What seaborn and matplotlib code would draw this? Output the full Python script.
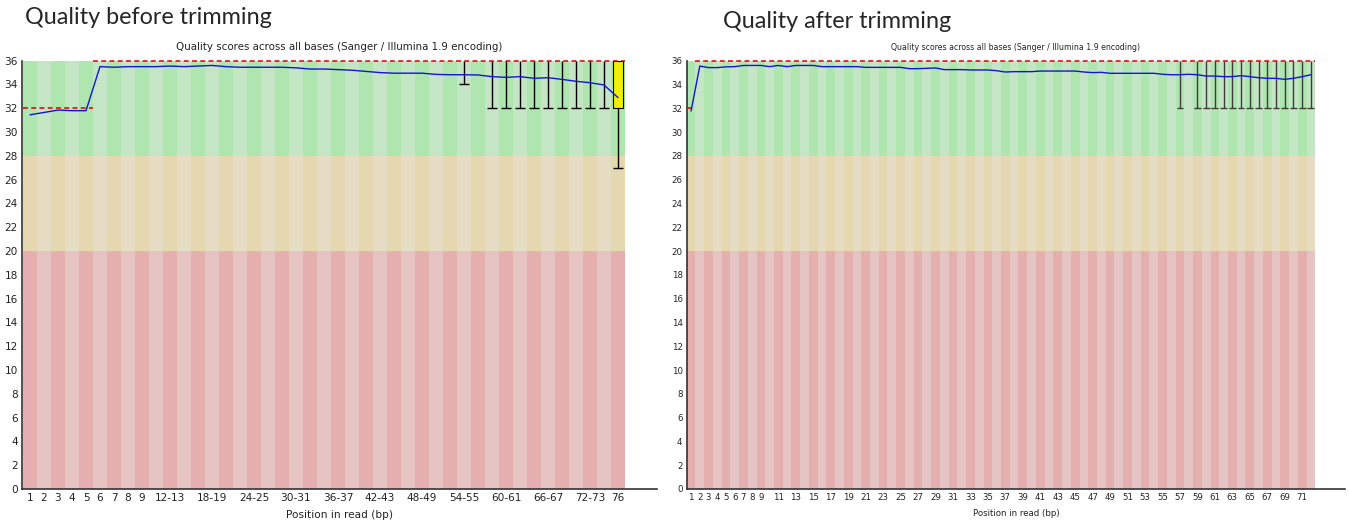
import matplotlib
matplotlib.use("Agg")
import numpy as np
import pandas as pd
import matplotlib.pyplot as plt
import seaborn as sns

sns.set_theme(style="white")
plt.rcParams['font.family'] = ['DejaVu Sans']

# ---------------- data: before trimming (grouped bins) ----------------
before_labels = ['1', '2', '3', '4', '5', '6', '7', '8', '9',
                 '10-11', '12-13', '14-15', '16-17', '18-19', '20-21', '22-23',
                 '24-25', '26-27', '28-29', '30-31', '32-33', '34-35', '36-37',
                 '38-39', '40-41', '42-43', '44-45', '46-47', '48-49', '50-51',
                 '52-53', '54-55', '56-57', '58-59', '60-61', '62-63', '64-65',
                 '66-67', '68-69', '70-71', '72-73', '74-75', '76']
before_mean = [31.45, 31.65, 31.85, 31.8, 31.8, 35.5, 35.45, 35.5, 35.5,
               35.5, 35.55, 35.5, 35.55, 35.6, 35.5, 35.45, 35.45, 35.45,
               35.45, 35.4, 35.3, 35.3, 35.25, 35.2, 35.1, 35.0, 34.95,
               34.95, 34.95, 34.85, 34.82, 34.82, 34.8, 34.66, 34.6, 34.66,
               34.52, 34.57, 34.43, 34.27, 34.15, 33.96, 32.9]
before_median = [32, 32, 32, 32, 32] + [36] * 38
before_q1 = [32, 32, 32, 32, 32] + [36] * 37 + [32]
before_q3 = [32, 32, 32, 32, 32] + [36] * 38
before_p10 = ([32, 32, 32, 32, 32] + [36] * 26 + [34, 36]
              + [32, 32, 32, 32, 32, 32, 32, 32, 32] + [27])
before_p90 = [32, 32, 32, 32, 32] + [36] * 38
before_ticks = ['1', '2', '3', '4', '5', '6', '7', '8', '9', '12-13', '18-19',
                '24-25', '30-31', '36-37', '42-43', '48-49', '54-55', '60-61',
                '66-67', '72-73', '76']

# ---------------- data: after trimming (single bases) ----------------
after_labels = ['1', '2', '3', '4', '5', '6', '7', '8', '9', '10', '11', '12',
                '13', '14', '15', '16', '17', '18', '19', '20', '21', '22',
                '23', '24', '25', '26', '27', '28', '29', '30', '31', '32',
                '33', '34', '35', '36', '37', '38', '39', '40', '41', '42',
                '43', '44', '45', '46', '47', '48', '49', '50', '51', '52',
                '53', '54', '55', '56', '57', '58', '59', '60', '61', '62',
                '63', '64', '65', '66', '67', '68', '69', '70', '71', '72']
after_mean = [31.77, 35.55, 35.42, 35.42, 35.48, 35.5, 35.6, 35.6, 35.6, 35.5,
              35.6, 35.5, 35.6, 35.6, 35.6, 35.5, 35.5, 35.5, 35.5, 35.5,
              35.44, 35.44, 35.44, 35.44, 35.44, 35.33, 35.33, 35.36, 35.39,
              35.25, 35.25, 35.25, 35.22, 35.22, 35.22, 35.16, 35.05, 35.08,
              35.08, 35.08, 35.13, 35.13, 35.13, 35.13, 35.13, 35.05, 35.0,
              35.02, 34.94, 34.94, 34.94, 34.94, 34.94, 34.94, 34.86, 34.82,
              34.82, 34.86, 34.82, 34.71, 34.71, 34.66, 34.66, 34.74, 34.66,
              34.57, 34.52, 34.52, 34.43, 34.52, 34.66, 34.82]
after_median = [32] + [36] * 71
after_q1 = [32] + [36] * 71
after_q3 = [32] + [36] * 71
after_p10 = [32] + [36] * 55 + [32, 36] + [32] * 14
after_p90 = [32] + [36] * 71
after_ticks = ['1', '2', '3', '4', '5', '6', '7', '8', '9', '11', '13', '15',
               '17', '19', '21', '23', '25', '27', '29', '31', '33', '35', '37',
               '39', '41', '43', '45', '47', '49', '51', '53', '55', '57', '59',
               '61', '63', '65', '67', '69', '71']

TITLE = "Quality scores across all bases (Sanger / Illumina 1.9 encoding)"

# quality zones: (bottom, top, dark stripe, light stripe)
ZONES = [(28, 36, (175, 229, 175), (196, 230, 196)),
         (20, 28, (229, 215, 176), (230, 220, 196)),
         (0, 20, (229, 175, 175), (230, 196, 196))]


def rgb(c):
    return tuple(v / 255 for v in c)


def draw_panel(ax, labels, mean, median, q1, q3, p10, p90, ticks,
               xlim, tick_fs, title_fs, whisker_color):
    df = pd.DataFrame({"label": labels, "mean": mean, "median": median,
                       "q1": q1, "q3": q3, "p10": p10, "p90": p90})
    df["x"] = np.arange(len(df))
    n = len(df)

    # alternating background stripes per quality zone
    for lo, hi, dark, light in ZONES:
        cols = [rgb(dark) if i % 2 == 0 else rgb(light) for i in range(n)]
        ax.bar(df["x"], hi - lo, bottom=lo, width=1.0, color=cols,
               linewidth=0, antialiased=False, zorder=0)

    # whiskers (10th - 90th percentile) with a cap at the lower end
    cap = 0.78
    w = df[df["p90"] > df["p10"]]
    ax.vlines(w["x"], w["p10"], w["p90"], color=whisker_color, lw=1.0,
              zorder=2, clip_on=False)
    ax.hlines(w["p10"], w["x"] - cap / 2, w["x"] + cap / 2,
              color=whisker_color, lw=1.0, zorder=2)

    # inter-quartile boxes
    b = df[df["q3"] > df["q1"]]
    ax.bar(b["x"], b["q3"] - b["q1"], bottom=b["q1"], width=0.76,
           color=rgb((240, 240, 0)), edgecolor="black", linewidth=0.8,
           zorder=3, clip_on=False)

    # median: one dashed segment per run of equal values
    start = 0
    for i in range(1, n + 1):
        if i == n or df["median"].iloc[i] != df["median"].iloc[start]:
            ax.hlines(df["median"].iloc[start], start - 0.5, i - 0.5,
                      color=rgb((220, 0, 0)), lw=1.1,
                      linestyles=[(0, (3.2, 2.2))], zorder=4, clip_on=False)
            start = i

    # mean quality line
    sns.lineplot(data=df, x="x", y="mean", ax=ax, color=rgb((20, 20, 210)),
                 lw=1.0, zorder=5)

    ax.set_xlim(*xlim)
    ax.set_ylim(0, 36)
    ax.set_yticks(range(0, 37, 2))
    ax.set_yticklabels([str(v) for v in range(0, 37, 2)], fontsize=tick_fs,
                       color="#222222")
    tick_pos = [labels.index(t) for t in ticks]
    ax.set_xticks(tick_pos)
    ax.set_xticklabels(ticks, fontsize=tick_fs, color="#222222")
    ax.tick_params(axis="both", length=0, pad=3)
    ax.set_xlabel("Position in read (bp)", fontsize=tick_fs, color="#222222",
                  labelpad=5)
    ax.set_ylabel("")
    ax.set_title(TITLE, fontsize=title_fs, color="#222222", pad=8)
    for s in ("top", "right"):
        ax.spines[s].set_visible(False)
    for s in ("left", "bottom"):
        ax.spines[s].set_color("#333333")
        ax.spines[s].set_linewidth(1.2)
    ax.grid(False)
    ax.set_facecolor("white")


W, H = 1349, 524
fig = plt.figure(figsize=(W / 100, H / 100), dpi=100)
fig.patch.set_facecolor("white")

bottom = (H - 489) / H
height = (489 - 60.7) / H
ax_l = fig.add_axes([22 / W, bottom, (657 - 22) / W, height])
ax_r = fig.add_axes([686.7 / W, bottom, (1345 - 686.7) / W, height])

draw_panel(ax_l, before_labels, before_mean, before_median, before_q1,
           before_q3, before_p10, before_p90, before_ticks,
           (-0.5 - 1 / 14, -0.5 + (657 - 23) / 14), 7.6, 7.4, "black")
draw_panel(ax_r, after_labels, after_mean, after_median, after_q1,
           after_q3, after_p10, after_p90, after_ticks,
           (-0.5, -0.5 + (1345 - 686.7) / 8.73), 6.2, 5.6, "#3c3c3c")

fig.text(25 / W, 1 - 18 / H, "Quality before trimming", fontsize=16.8,
         family=["Lato", "DejaVu Sans"], ha="left", va="center")
fig.text(723 / W, 1 - 21 / H, "Quality after trimming", fontsize=16.8,
         family=["Lato", "DejaVu Sans"], ha="left", va="center")

fig.savefig("out.png", dpi=100, facecolor="white")
